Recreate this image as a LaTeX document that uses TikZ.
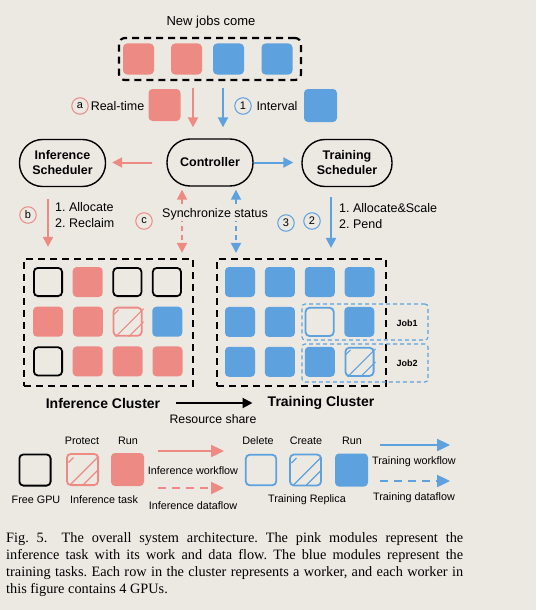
\documentclass[tikz,border=0pt]{standalone}
\usepackage{fontspec}
\setmainfont{Liberation Sans}
\newfontfamily\captionserif{Liberation Serif}
\usetikzlibrary{positioning,arrows.meta}
\definecolor{infpink}{HTML}{EE8A84}
\definecolor{trnblue}{HTML}{5DA1DE}
\definecolor{paper}{HTML}{ECE9E3}
% three diagonal strokes on a GPU box: node name, colour
\newcommand{\hatchgpu}[2]{%
  \draw[#2, line width=1.1pt] ([shift={(-14,-7)}]#1.center) -- ([shift={(-9,-12)}]#1.center);
  \draw[#2, line width=1.1pt] ([shift={(-12,15)}]#1.center) -- ([shift={(16,-13)}]#1.center);
  \draw[#2, line width=1.1pt] ([shift={(1,15)}]#1.center) -- ([shift={(16,0)}]#1.center);
}
\begin{document}
\begin{tikzpicture}[x=1pt, y=-1pt, node distance=9.5pt, >={Triangle[length=10pt,width=10pt]},
    gpu/.style={rectangle, rounded corners=4pt, minimum size=30pt, inner sep=0pt},
    infrun/.style={gpu, fill=infpink},
    trnrun/.style={gpu, fill=trnblue},
    freegpu/.style={gpu, draw=black, line width=1.8pt, minimum size=28.2pt},
    infprot/.style={gpu, draw=infpink, line width=1.8pt, minimum size=28.2pt},
    trnfree/.style={gpu, draw=trnblue, line width=1.8pt, minimum size=28.2pt},
    sched/.style={draw, rounded corners=23pt, line width=1.4pt, minimum width=86pt, minimum height=47pt, align=center, font=\bfseries\fontsize{12.5}{15}\selectfont},
    cluster/.style={draw, dash pattern=on 7pt off 5pt, line width=2.2pt},
    jobbox/.style={draw=trnblue, dash pattern=on 4pt off 3pt, line width=1.1pt, rounded corners=3pt},
    numtag/.style={circle, draw, line width=1pt, minimum size=16.5pt, inner sep=0pt, font=\fontsize{11}{11}\selectfont},
    flow/.style={line width=2pt, ->},
    sync/.style={line width=1.8pt, <->, dash pattern=on 5pt off 4pt},
    keyflow/.style={line width=2.4pt, ->, >={Triangle[length=13pt,width=12pt]}},
    lbl/.style={font=\fontsize{12.5}{16}\selectfont, inner sep=1pt},
    keytext/.style={font=\fontsize{10.8}{12}\selectfont, inner sep=1pt}]
    \fill[paper] (0,0) rectangle (536,610);

    % incoming jobs
    \node (newjobs) at (211,22) [lbl, font=\fontsize{13}{15}\selectfont] {New jobs come};
    \node (queue) at (210,59) [cluster, rounded corners=6pt, minimum width=182pt, minimum height=42pt] {};
    \node (q1) at (138.5,59) [infrun, minimum size=31pt] {};
    \node (q2) at (186.5,59) [infrun, minimum size=31pt] {};
    \node (q3) at (228.5,59) [trnrun, minimum size=31pt] {};
    \node (q4) at (277,59) [trnrun, minimum size=31pt] {};

    \node (taga) at (80,106) [numtag, draw=infpink] {a};
    \node (realtime) at (117.5,106) [lbl] {Real-time};
    \node (rtjob) at (164.5,105) [infrun, minimum size=32pt] {};
    \node (tag1) at (243,106) [numtag, draw=trnblue] {1};
    \node (interval) at (277,106) [lbl] {Interval};
    \node (ivjob) at (320.5,105.5) [trnrun, minimum size=33pt] {};

    % schedulers
    \node (isched) at (62.5,163) [sched] {Inference\\Scheduler};
    \node (ctrl) at (210,162.5) [sched] {Controller};
    \node (tsched) at (347,163) [sched, minimum width=90pt] {Training\\Scheduler};

    \node (tagb) at (28,215) [numtag, draw=infpink] {b};
    \node (allocate) at (54,215) [lbl, anchor=west, align=left] {1.\ Allocate\\2.\ Reclaim};
    \node (tagc) at (144,221) [numtag, draw=infpink] {c};
    \node (tag3) at (286,223) [numtag, draw=trnblue] {3};
    \node (tag2) at (312,221) [numtag, draw=trnblue] {2};
    \node (allocscale) at (338,216.5) [lbl, anchor=west, align=left] {1.\ Allocate\&Scale\\2.\ Pend};

    % clusters
    \node (icluster) at (108.5,322.5) [cluster, minimum width=169pt, minimum height=127pt] {};
    \node (tcluster) at (301.5,322.5) [cluster, minimum width=169pt, minimum height=127pt] {};

    \node (i11) at (48,282) [freegpu] {};
    \node (i12) [infrun, right=of i11] {};
    \node (i13) [freegpu, right=of i12] {};
    \node (i14) [freegpu, right=of i13] {};
    \node (i21) [infrun, below=of i11] {};
    \node (i22) [infrun, right=of i21] {};
    \node (i23) [infprot, right=of i22] {};
    \node (i24) [trnrun, right=of i23] {};
    \node (i31) [freegpu, below=of i21] {};
    \node (i32) [infrun, right=of i31] {};
    \node (i33) [infrun, right=of i32] {};
    \node (i34) [infrun, right=of i33] {};
    \hatchgpu{i23}{infpink}

    \node (job1) at (365,322) [jobbox, minimum width=126pt, minimum height=36pt] {};
    \node (job2) at (365,363) [jobbox, minimum width=126pt, minimum height=38pt] {};
    \node (t11) at (240,282) [trnrun] {};
    \node (t12) [trnrun, right=of t11] {};
    \node (t13) [trnrun, right=of t12] {};
    \node (t14) [trnrun, right=of t13] {};
    \node (t21) [trnrun, below=of t11] {};
    \node (t22) [trnrun, right=of t21] {};
    \node (t23) [trnfree, right=of t22] {};
    \node (t24) [trnrun, right=of t23] {};
    \node (t31) [trnrun, below=of t21] {};
    \node (t32) [trnrun, right=of t31] {};
    \node (t33) [trnrun, right=of t32] {};
    \node (t34) [trnfree, right=of t33] {};
    \hatchgpu{t34}{trnblue}
    \node (job1lbl) at (407,323) [font=\bfseries\fontsize{9}{10}\selectfont] {Job1};
    \node (job2lbl) at (407,363) [font=\bfseries\fontsize{9}{10}\selectfont] {Job2};

    \node (icllbl) at (103,403) [inner sep=1pt, font=\bfseries\fontsize{14}{16}\selectfont] {Inference Cluster};
    \node (tcllbl) at (321,403) [inner sep=1pt, font=\bfseries\fontsize{14}{16}\selectfont] {Training Cluster};
    \node (share) at (213,419) [lbl, font=\fontsize{12.3}{14}\selectfont] {Resource share};

    \draw[flow, infpink, shorten <=7pt, shorten >=11pt] ([xshift=-17pt]queue.south) -- ([xshift=-17pt]ctrl.north);
    \draw[flow, trnblue, shorten <=7pt, shorten >=11pt] ([xshift=13pt]queue.south) -- ([xshift=13pt]ctrl.north);
    \draw[flow, infpink, shorten <=14pt, shorten >=6pt] (ctrl.west) -- (ctrl.west -| isched.east);
    \draw[flow, trnblue, shorten >=8pt] (ctrl.east) -- (ctrl.east -| tsched.west);
    \draw[flow, infpink, shorten <=12pt, shorten >=11pt] ([xshift=-14.5pt]isched.south) -- ([xshift=-60.5pt]icluster.north);
    \draw[flow, trnblue, shorten <=10pt, shorten >=10pt] ([xshift=-16pt]tsched.south) -- ([xshift=29.5pt]tcluster.north);
    \draw[sync, infpink, shorten <=3pt, shorten >=5pt] ([xshift=-28pt]ctrl.south) -- ([xshift=73.5pt]icluster.north);
    \draw[sync, trnblue, shorten <=3pt, shorten >=5pt] ([xshift=26pt]ctrl.south) -- ([xshift=-65.5pt]tcluster.north);
    \draw[flow, black, shorten <=15pt, shorten >=14pt] (icllbl) -- (tcllbl);
    \node (syncstat) at (215,214) [lbl, fill=paper] {Synchronize status};

    % legend
    \node (lfree) at (35,470) [freegpu, minimum size=31.2pt] {};
    \node (lprot) at (82.5,469.5) [infprot, minimum size=31.2pt] {};
    \node (lrun) at (127.5,469.5) [infrun, minimum size=33pt] {};
    \hatchgpu{lprot}{infpink}
    \node (lprotlbl) at (82,441) [keytext] {Protect};
    \node (lrunlbl) at (128,441) [keytext] {Run};
    \node (lfreelbl) at (36,500) [keytext] {Free GPU};
    \node (linflbl) at (104,500) [keytext] {Inference task};

    \coordinate (iwfa) at (158,451);
    \coordinate (iwfb) at (224,451);
    \coordinate (idfa) at (158,488);
    \coordinate (idfb) at (224,488);
    \draw[keyflow, infpink] (iwfa) -- (iwfb);
    \draw[keyflow, infpink, dash pattern=on 8pt off 6pt] (idfa) -- (idfb);
    \node (iwflbl) at (193,471) [keytext] {Inference workflow};
    \node (idflbl) at (193,506) [keytext] {Inference dataflow};

    \node (ldel) at (261,470) [trnfree, minimum size=30.5pt] {};
    \node (lcreate) at (305.5,470) [trnfree, minimum size=31pt] {};
    \node (ltrun) at (351.5,470) [trnrun, minimum size=33pt] {};
    \hatchgpu{lcreate}{trnblue}
    \node (ldellbl) at (258,441) [keytext] {Delete};
    \node (lcrelbl) at (306,441) [keytext] {Create};
    \node (ltrunlbl) at (352,441) [keytext] {Run};
    \node (lrepl) at (307,500) [keytext] {Training Replica};

    \coordinate (twfa) at (380,445);
    \coordinate (twfb) at (450,445);
    \coordinate (tdfa) at (380,481);
    \coordinate (tdfb) at (450,481);
    \draw[keyflow, trnblue] (twfa) -- (twfb);
    \draw[keyflow, trnblue, dash pattern=on 8pt off 6pt] (tdfa) -- (tdfb);
    \node (twflbl) at (414,462) [keytext] {Training workflow};
    \node (tdflbl) at (414,498) [keytext] {Training dataflow};

    \node (caption) at (6,532) [anchor=north west, inner sep=0pt, text width=457pt, align=justify, font=\captionserif\fontsize{14.3}{17}\selectfont\frenchspacing] {Fig.~5.\hspace{1em}The overall system architecture. The pink modules represent the\linebreak inference task with its work and data flow. The blue modules represent the\linebreak training tasks. Each row in the cluster represents a worker, and each worker in\linebreak this figure contains 4 GPUs.};
\end{tikzpicture}
\end{document}
